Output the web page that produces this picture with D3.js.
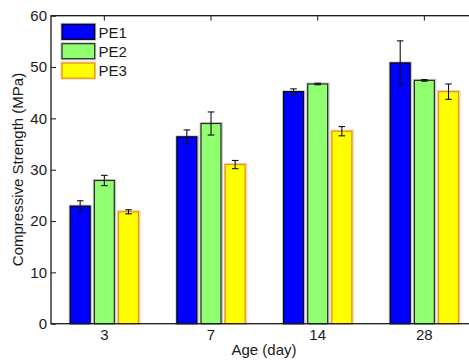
<!DOCTYPE html>
<html>
<head>
<meta charset="utf-8">
<script src="https://cdn.jsdelivr.net/npm/d3@7/dist/d3.min.js"></script>
<style>
  html, body { margin: 0; padding: 0; background: #fff; }
  svg { display: block; font-family: "Liberation Sans", Arial, sans-serif; }
</style>
</head>
<body>
<svg id="chart" width="469" height="360"></svg>
<script>
// Compressive strength by curing age for three mixes
const categories = ["3", "7", "14", "28"];
const series = ["PE1", "PE2", "PE3"];
const means = {
  PE1: [22.9, 36.4, 45.2, 50.8],
  PE2: [27.9, 39.0, 46.7, 47.4],
  PE3: [21.8, 31.0, 37.5, 45.2]
};
const errors = {
  PE1: [1.05, 1.35, 0.55, 4.3],
  PE2: [1.0, 2.25, 0.15, 0.15],
  PE3: [0.4, 0.8, 0.9, 1.5]
};
const yTicks = [0, 10, 20, 30, 40, 50, 60];

const fills = { PE1: "#0000ff", PE2: "#90ff70", PE3: "#ffff00" };
const strokes = { PE1: "#000000", PE2: "#2a2a2a", PE3: "#e8901a" };
const halos = { PE1: "#cccccc", PE2: "#cccccc", PE3: "#f5d29e" };

const svg = d3.select("#chart");
const plot = { left: 51, right: 477.7, top: 15.7, bottom: 323.7 };

const x = d3.scaleBand().domain(categories).range([plot.left, plot.right]);
const xSub = d3.scaleBand().domain(series)
  .range([-x.bandwidth() * 0.32, x.bandwidth() * 0.32])
  .paddingInner(0.1736);
const y = d3.scaleLinear().domain([0, 60]).range([plot.bottom, plot.top]);

const axisColor = "#1a1a1a";
const fontSize = 15;

// Ticks (drawn underneath the bars, axis-box style)
const yAxis = d3.axisLeft(y).tickValues(yTicks).tickSizeInner(-5).tickSizeOuter(0).tickPadding(4);
const gy = svg.append("g").attr("transform", `translate(${plot.left},0)`).call(yAxis);
gy.select(".domain").remove();
gy.selectAll("line").attr("stroke", axisColor);
gy.selectAll("text").attr("fill", axisColor).style("font-size", fontSize + "px");

const xAxis = d3.axisBottom(x).tickSizeInner(-5).tickSizeOuter(0).tickPadding(6);
const gx = svg.append("g").attr("transform", `translate(0,${plot.bottom})`).call(xAxis);
gx.select(".domain").remove();
gx.selectAll("line").attr("stroke", axisColor);
gx.selectAll("text").attr("fill", axisColor).style("font-size", fontSize + "px");

const xTop = d3.axisTop(x).tickSizeInner(-5).tickSizeOuter(0).tickFormat("");
const gt = svg.append("g").attr("transform", `translate(0,${plot.top})`).call(xTop);
gt.select(".domain").remove();
gt.selectAll("line").attr("stroke", axisColor);

// Bars with a faint halo
const groups = svg.append("g").selectAll("g")
  .data(categories)
  .join("g")
  .attr("transform", d => `translate(${x(d) + x.bandwidth() / 2},0)`);

const rows = groups.selectAll("g.bar")
  .data((c, i) => series.map(s => ({ s, v: means[s][i], e: errors[s][i] })))
  .join("g").attr("class", "bar");

rows.append("rect")
  .attr("x", d => xSub(d.s) - 0.5)
  .attr("y", d => y(d.v) - 0.5)
  .attr("width", xSub.bandwidth() + 1.5)
  .attr("height", d => y(0) - y(d.v) + 0.5)
  .attr("fill", "none")
  .attr("stroke", d => halos[d.s])
  .attr("stroke-width", 2);

rows.append("rect")
  .attr("x", d => xSub(d.s))
  .attr("y", d => y(d.v))
  .attr("width", xSub.bandwidth())
  .attr("height", d => y(0) - y(d.v))
  .attr("fill", d => fills[d.s])
  .attr("stroke", d => strokes[d.s])
  .attr("stroke-width", 1.2);

// Error bars
const capHalf = 3.3;
const eb = rows.append("g").attr("stroke", "#111").attr("stroke-width", 1.1);
eb.append("line")
  .attr("x1", d => xSub(d.s) + xSub.bandwidth() / 2)
  .attr("x2", d => xSub(d.s) + xSub.bandwidth() / 2)
  .attr("y1", d => y(d.v + d.e))
  .attr("y2", d => y(d.v - d.e));
eb.append("line")
  .attr("x1", d => xSub(d.s) + xSub.bandwidth() / 2 - capHalf)
  .attr("x2", d => xSub(d.s) + xSub.bandwidth() / 2 + capHalf)
  .attr("y1", d => y(d.v + d.e))
  .attr("y2", d => y(d.v + d.e));
eb.append("line")
  .attr("x1", d => xSub(d.s) + xSub.bandwidth() / 2 - capHalf)
  .attr("x2", d => xSub(d.s) + xSub.bandwidth() / 2 + capHalf)
  .attr("y1", d => y(d.v - d.e))
  .attr("y2", d => y(d.v - d.e));

// Axis box
svg.append("rect")
  .attr("x", plot.left)
  .attr("y", plot.top)
  .attr("width", plot.right - plot.left)
  .attr("height", plot.bottom - plot.top)
  .attr("fill", "none")
  .attr("stroke", axisColor)
  .attr("stroke-width", 1.3);

// Legend
const legend = svg.append("g").attr("transform", "translate(62,24.3)");
const li = legend.selectAll("g").data(series).join("g")
  .attr("transform", (d, i) => `translate(0,${i * 19.4})`);
li.append("rect")
  .attr("x", -0.5).attr("y", -0.5).attr("width", 33.7).attr("height", 16)
  .attr("fill", "none").attr("stroke", d => halos[d]).attr("stroke-width", 2);
li.append("rect")
  .attr("width", 32.7).attr("height", 15)
  .attr("fill", d => fills[d]).attr("stroke", d => strokes[d]).attr("stroke-width", 1.2);
li.append("text")
  .attr("x", 36.5).attr("y", 13.3)
  .attr("fill", axisColor)
  .style("font-size", fontSize + "px")
  .text(d => d);

// Axis titles
svg.append("text")
  .attr("x", 264).attr("y", 355)
  .attr("text-anchor", "middle")
  .attr("fill", axisColor)
  .style("font-size", "15px")
  .text("Age (day)");

svg.append("text")
  .attr("transform", "translate(23,169.5) rotate(-90)")
  .attr("text-anchor", "middle")
  .attr("fill", axisColor)
  .style("font-size", "15px")
  .text("Compressive Strength (MPa)");
</script>
</body>
</html>
